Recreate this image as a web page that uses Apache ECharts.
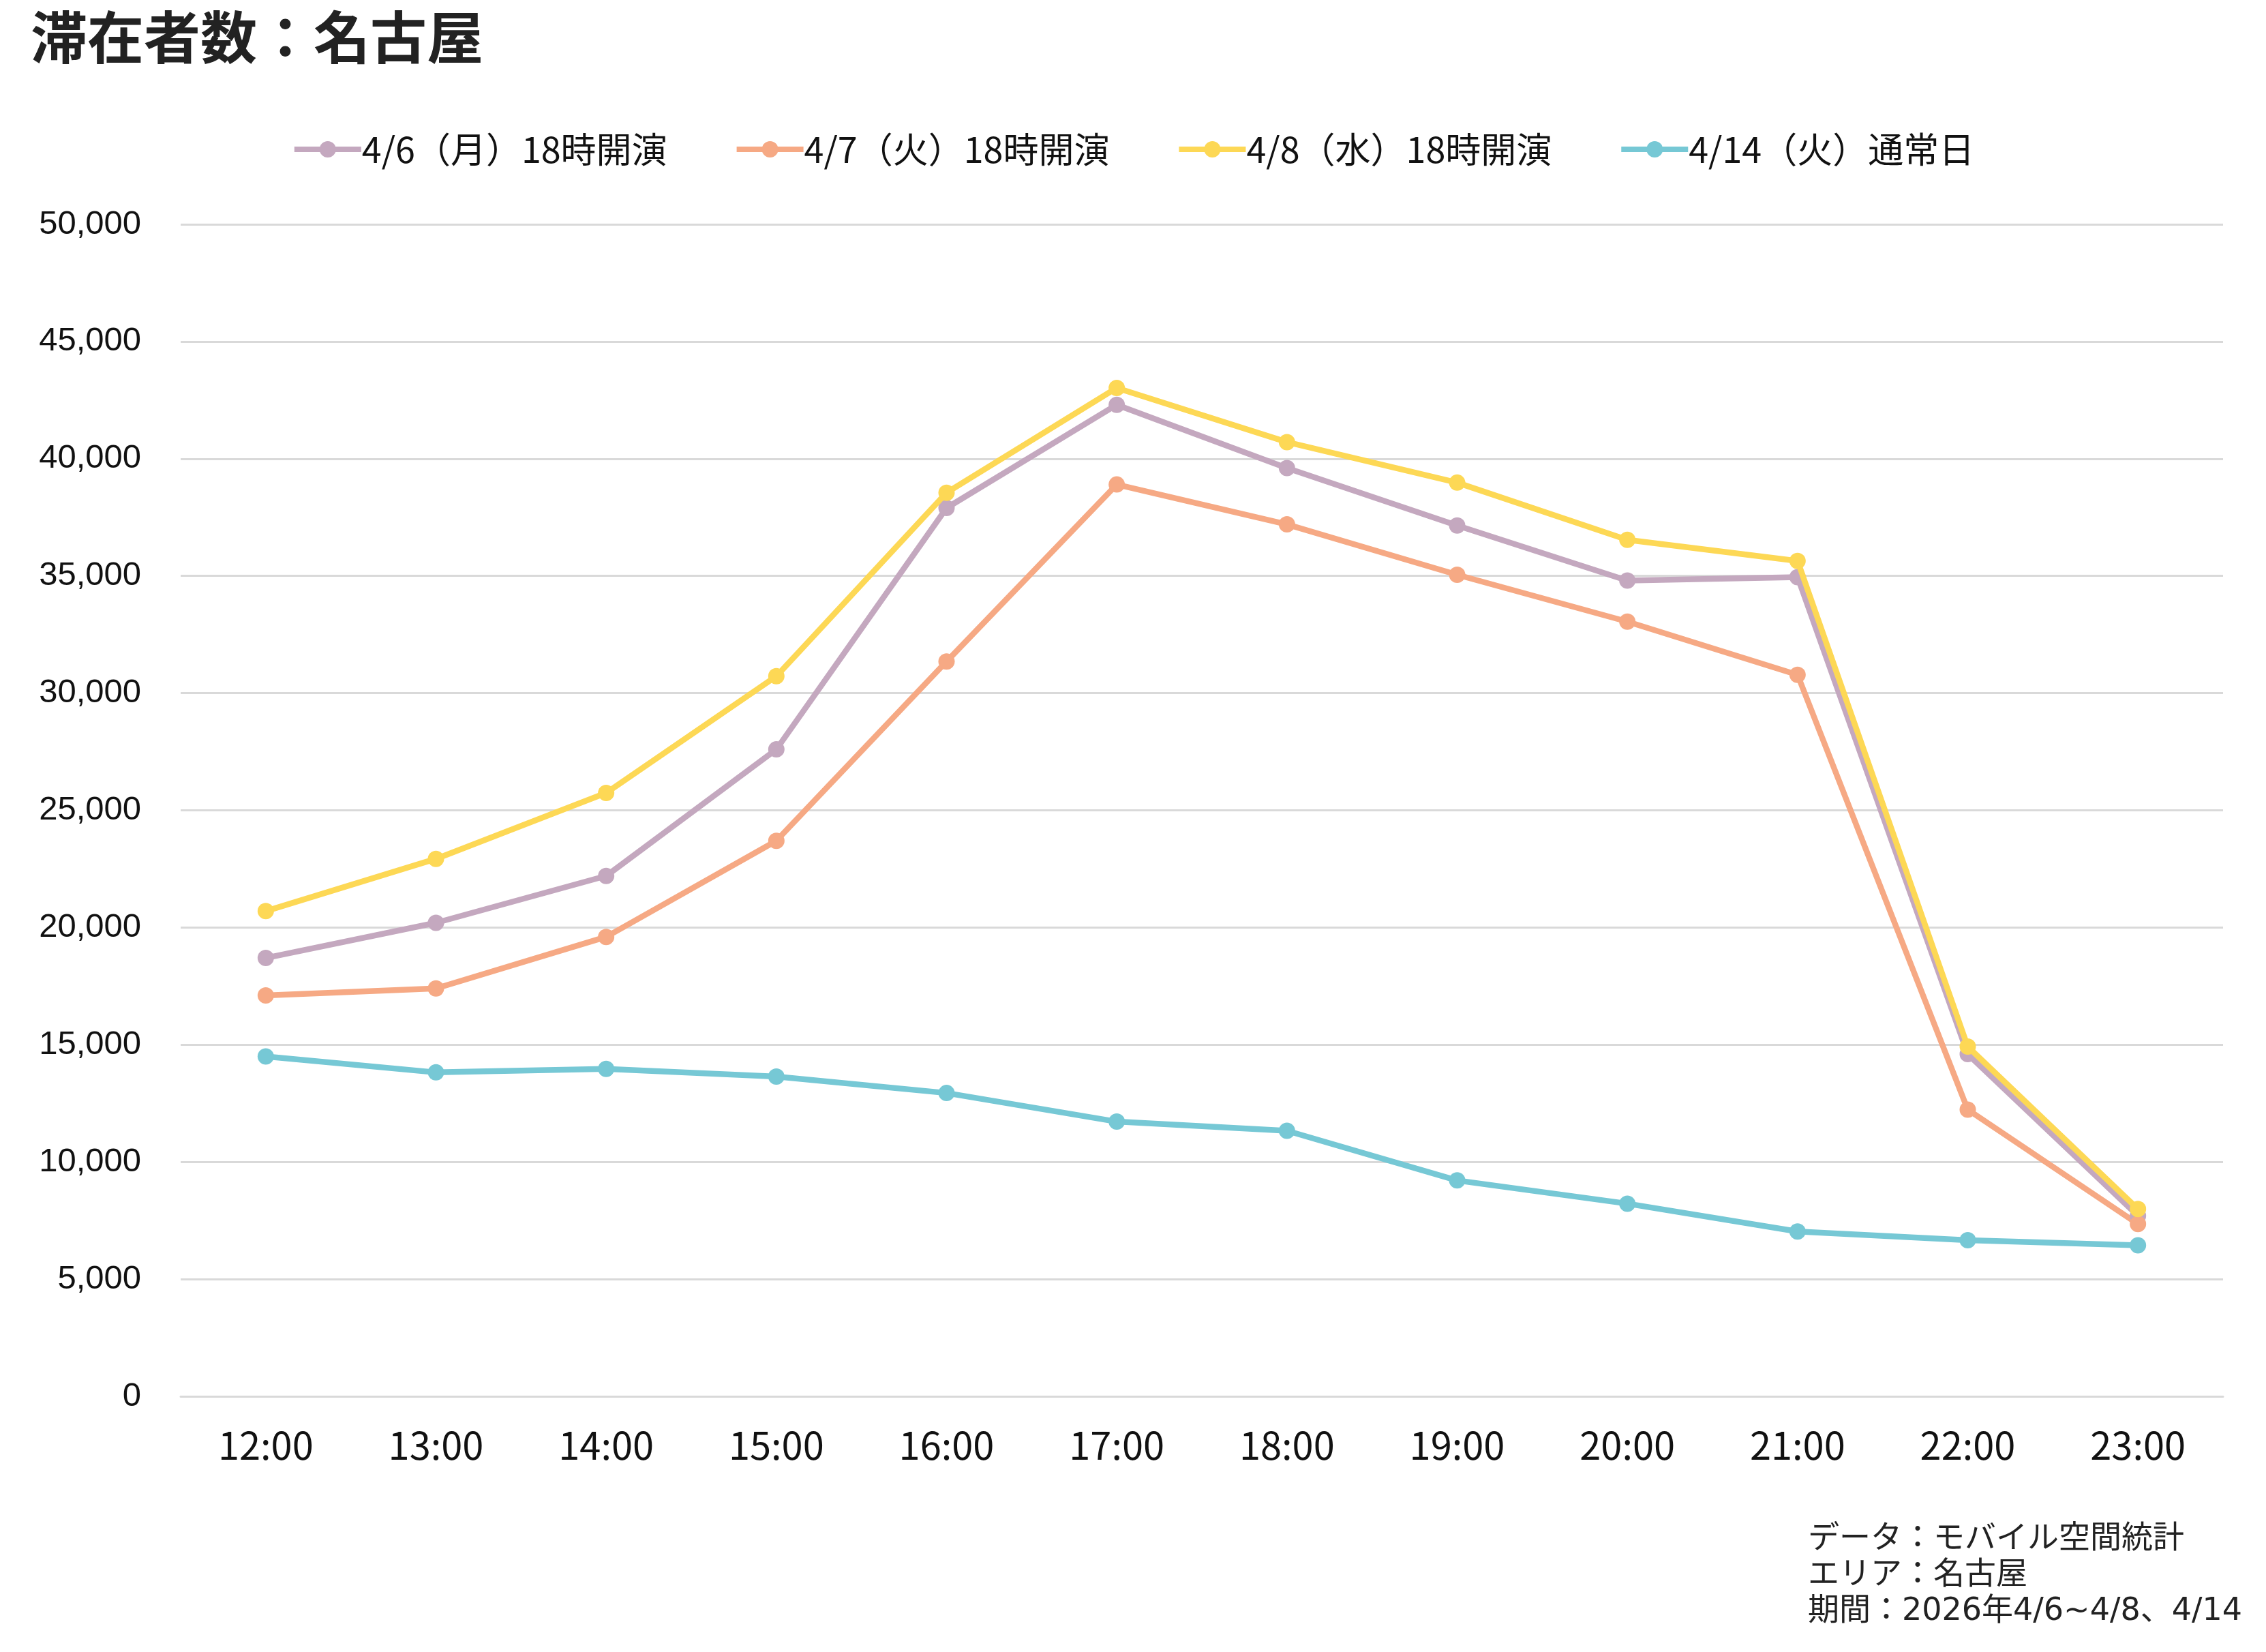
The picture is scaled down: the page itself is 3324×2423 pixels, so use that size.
<!DOCTYPE html>
<html lang="ja">
<head>
<meta charset="utf-8">
<title>滞在者数：名古屋</title>
<script src="https://cdn.jsdelivr.net/npm/echarts@6/dist/echarts.min.js"></script>
<style>
  html, body { margin: 0; padding: 0; background: #fff; }
  #chart { width: 3324px; height: 2423px; }
</style>
</head>
<body>
<div id="chart"></div>
<script>
// 時間帯（カテゴリ）
const hours = ["12:00", "13:00", "14:00", "15:00", "16:00", "17:00", "18:00", "19:00", "20:00", "21:00", "22:00", "23:00"];

// 系列名
const seriesNames = ["4/6（月）18時開演", "4/7（火）18時開演", "4/8（水）18時開演", "4/14（火）通常日"];

// 各日の滞在者数
const mon0406 = [18700, 20200, 22200, 27600, 37900, 42300, 39600, 37150, 34800, 34950, 14600, 7700];
const tue0407 = [17100, 17400, 19600, 23700, 31350, 38900, 37200, 35050, 33050, 30780, 12230, 7350];
const wed0408 = [20700, 22930, 25740, 30720, 38550, 43020, 40710, 38980, 36540, 35640, 14920, 7990];
const tue0414 = [14500, 13820, 13970, 13640, 12940, 11720, 11330, 9210, 8220, 7030, 6660, 6440];

// Y軸の目盛
const yTicks = [0, 5000, 10000, 15000, 20000, 25000, 30000, 35000, 40000, 45000, 50000];

// 注記
const notes = ["データ：モバイル空間統計", "エリア：名古屋", "期間：2026年4/6~4/8、4/14"];

const colors = ["#c4a8bf", "#f6a984", "#fdd855", "#76c8d5"];
const JP = '"Noto Sans CJK JP", "Noto Sans", sans-serif';

const chart = echarts.init(document.getElementById("chart"));

const dataSets = [mon0406, tue0407, wed0408, tue0414];

const option = {
  backgroundColor: "#fff",
  animation: false,
  color: colors,
  title: {
    text: "滞在者数：名古屋",
    left: 40,
    top: 8,
    textStyle: { fontFamily: JP, fontSize: 83, fontWeight: "bold", color: "#222" },
  },
  legend: {
    top: 188,
    left: "center",
    itemWidth: 98,
    itemHeight: 30,
    itemGap: 98,
    lineStyle: { width: 8 },
    textStyle: { fontFamily: JP, fontSize: 52, color: "#111", padding: [0, 0, 0, -4] },
    data: seriesNames,
  },
  grid: {
    left: 265,
    right: 63,
    top: 329,
    bottom: 375,
    containLabel: false,
  },
  xAxis: {
    type: "category",
    data: hours,
    boundaryGap: true,
    axisLine: { show: true, lineStyle: { color: "#d9d9d9", width: 3 } },
    axisTick: { show: false },
    axisLabel: { fontFamily: JP, fontSize: 56, color: "#111", margin: 44 },
  },
  yAxis: {
    type: "value",
    min: yTicks[0],
    max: yTicks[yTicks.length - 1],
    interval: yTicks[1] - yTicks[0],
    axisLine: { show: false },
    axisTick: { show: false },
    splitLine: { lineStyle: { color: "#d9d9d9", width: 3 } },
    axisLabel: {
      fontFamily: '"Liberation Sans", Arial, sans-serif',
      fontSize: 49,
      color: "#111",
      margin: 58,
      formatter: (v) => v.toLocaleString("en-US"),
    },
  },
  series: seriesNames.map((name, i) => ({
    name,
    type: "line",
    data: dataSets[i],
    symbol: "circle",
    symbolSize: 24,
    lineStyle: { width: 8.5, color: colors[i] },
    itemStyle: { color: colors[i] },
    z: i === 2 ? 4 : 3,
  })),
  graphic: [
    {
      type: "text",
      left: 2652,
      top: 2232,
      style: {
        text: notes.join("\n"),
        font: '46px "DejaVu Sans", "Noto Sans CJK JP"',
        lineHeight: 53,
        fill: "#222",
      },
    },
  ],
};

chart.setOption(option);
</script>
</body>
</html>
